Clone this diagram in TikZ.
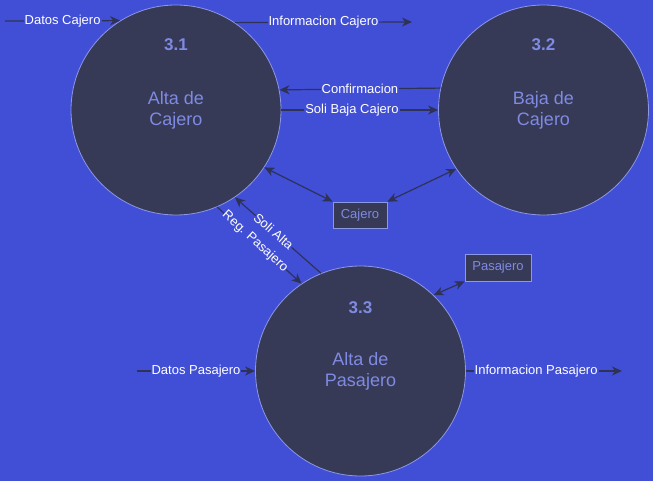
\documentclass[tikz,border=0pt]{standalone}
\usepackage{fontspec}
\setmainfont{Liberation Sans}
\usetikzlibrary{arrows.meta}
\definecolor{fondo}{HTML}{414FD6}
\definecolor{burbuja}{HTML}{363A57}
\definecolor{borde}{HTML}{8C97E6}
\definecolor{letra}{HTML}{7F8AE2}
\definecolor{flecha}{HTML}{2E3256}
\tikzset{
    proceso/.style = {circle, draw=borde, fill=burbuja, line width=0.8pt,
        minimum size=210pt, inner sep=0pt, text=letra, align=center,
        font=\fontsize{18}{21}\selectfont},
    numero/.style = {text=letra, font=\fontsize{17}{20}\selectfont\bfseries},
    almacen/.style = {rectangle, draw=borde, fill=burbuja, line width=0.8pt,
        text=letra, inner sep=0pt, font=\fontsize{13}{15}\selectfont},
    punta/.tip = {Stealth[length=10pt,width=9pt,inset=3pt]},
    flujo/.style = {draw=flecha, line width=1.2pt, -punta},
    doble/.style = {draw=flecha, line width=1.2pt, punta-punta},
    etiqueta/.style = {fill=fondo, text=white, inner sep=1pt,
        font=\fontsize{13}{15}\selectfont}
}
\begin{document}
\begin{tikzpicture}[x=1pt, y=-1pt]
    \fill [fondo] (0,0) rectangle (653,481);
    \useasboundingbox (0,0) rectangle (653,481);
    % procesos
    \node [proceso] (p31) at (176,110) {Alta de\\Cajero};
    \node [proceso] (p32) at (543.5,110) {Baja de\\Cajero};
    \node [proceso] (p33) at (360.5,371) {Alta de\\Pasajero};
    \node [numero] (n31) at ([yshift=65pt]p31.center) {3.1};
    \node [numero] (n32) at ([yshift=65pt]p32.center) {3.2};
    \node [numero] (n33) at ([yshift=63pt]p33.center) {3.3};
    % almacenes
    \node [almacen, minimum width=54pt, minimum height=26pt] (caj) at (360,215) {Cajero};
    \node [almacen, minimum width=66pt, minimum height=27pt] (pas) at (498,267.5) {Pasajero};
    % extremos libres
    \coordinate (inDC) at (5,21);
    \coordinate (outIC) at (412,22);
    \coordinate (inDP) at (137,371);
    \coordinate (outIP) at (622,371);
    % flujos
    \draw [flujo] (inDC) -- (p31.122) node [etiqueta, midway] {Datos Cajero};
    \draw [flujo] (p31.56) -- (outIC) node [etiqueta, midway] {Informacion Cajero};
    \draw [flujo] (p32.168.5) -- (p31.11.5) node [etiqueta, midway] {Confirmacion};
    \draw [flujo] (p31.0) -- (p32.180) node [etiqueta, pos=0.45] {Soli Baja Cajero};
    \draw [doble] (p31.-33.5) -- (caj.north west);
    \draw [doble] (caj.north east) -- (p32.-146.5);
    \draw [doble] (p33.46) -- (pas.south west);
    \draw [flujo] (p33.112) -- (p31.-56) node [etiqueta, sloped, inner sep=0pt, pos=0.55] {Soli Alta};
    \draw [flujo] (p31.-67.5) -- (p33.124) node [etiqueta, sloped, inner sep=0pt, pos=0.45] {Reg. Pasajero};
    \draw [flujo] (inDP) -- (p33.180) node [etiqueta, midway] {Datos Pasajero};
    \draw [flujo] (p33.0) -- (outIP) node [etiqueta, pos=0.45] {Informacion Pasajero};
\end{tikzpicture}
\end{document}
